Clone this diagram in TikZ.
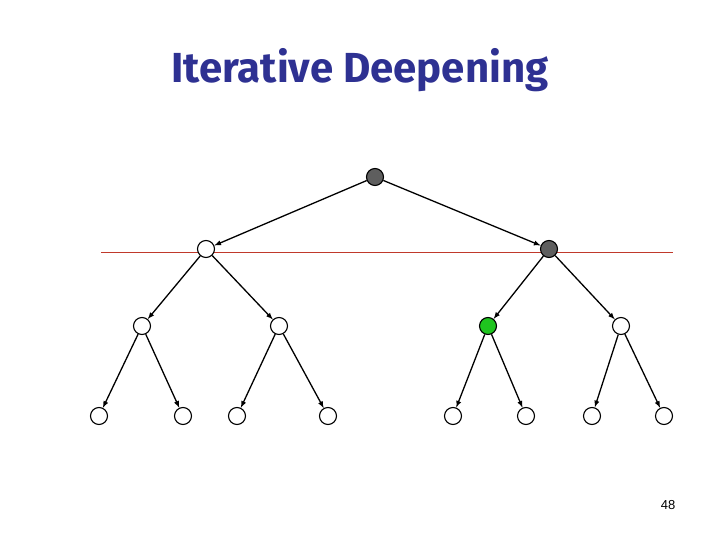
\documentclass[tikz,border=0pt]{standalone}
\usepackage{fontspec}
\usepackage{xcolor}
\usetikzlibrary{arrows}
\newfontfamily\titlefont{Fira Sans}
\setsansfont{Liberation Sans}
\definecolor{titleblue}{HTML}{2E3192}
\definecolor{visited}{HTML}{5E5E5E}
\definecolor{goal}{HTML}{1FC41F}
\definecolor{limitred}{HTML}{C0392B}

\tikzset{
	tnode/.style={circle,draw,line width=1.1pt,fill=white,minimum size=17pt,inner sep=0pt},
	seen/.style={tnode,fill=visited},
	found/.style={tnode,fill=goal}
}

\begin{document}
\begin{tikzpicture}[x=1pt,y=-1pt]
		\useasboundingbox (0,0) rectangle (720,540);
		\node[text=titleblue,font=\titlefont\bfseries\fontsize{42}{48}\selectfont] (title) at (360,70) {Iterative Deepening};
		%
		\draw[draw=limitred,line width=0.9pt] (101,252) -- (673,252);
		%
		\node[seen] (r) at (375,177) {};
		\node[tnode] (a) at (206,249) {};
		\node[seen] (b) at (549,249) {};
		\node[tnode] (aa) at (142,326) {};
		\node[tnode] (ab) at (279,326) {};
		\node[found] (ba) at (488,326) {};
		\node[tnode] (bb) at (621,326) {};
		\node[tnode] (aaa) at (99,416) {};
		\node[tnode] (aab) at (183,416) {};
		\node[tnode] (aba) at (237,416) {};
		\node[tnode] (abb) at (328,416) {};
		\node[tnode] (baa) at (453,416) {};
		\node[tnode] (bab) at (526,416) {};
		\node[tnode] (bba) at (592,416) {};
		\node[tnode] (bbb) at (664,416) {};
		%
		\path[->,>=latex,line width=1.3pt]
		(r) edge (a)
		(r) edge (b)
		(a) edge (aa)
		(a) edge (ab)
		(b) edge (ba)
		(b) edge (bb)
		(aa) edge (aaa)
		(aa) edge (aab)
		(ab) edge (aba)
		(ab) edge (abb)
		(ba) edge (baa)
		(ba) edge (bab)
		(bb) edge (bba)
		(bb) edge (bbb);
		%
		\node[font=\sffamily\fontsize{13}{15}\selectfont] (page) at (668,505) {48};
		\end{tikzpicture}
\end{document}
